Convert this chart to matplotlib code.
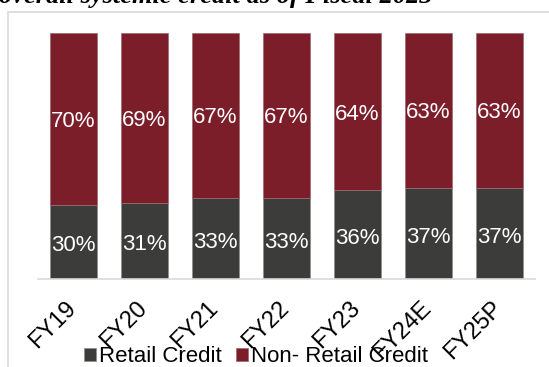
import matplotlib
matplotlib.use("Agg")
import matplotlib.pyplot as plt
from matplotlib.patches import Rectangle
from matplotlib.transforms import ScaledTranslation
import numpy as np

# 零售信贷 vs 非零售信贷占比 (%)
years = ["FY19", "FY20", "FY21", "FY22", "FY23", "FY24E", "FY25P"]
retail = [30, 31, 33, 33, 36, 37, 37]
non_retail = [70, 69, 67, 67, 64, 63, 63]

C_RETAIL = "#3c3c3a"
C_NON = "#7b1e2a"

W, H = 549, 367
fig = plt.figure(figsize=(W / 100, H / 100), dpi=100)
plt.rcParams["font.family"] = ["Liberation Sans", "DejaVu Sans"]

# 图表外框
fig.patches.append(Rectangle((8 / W, -0.1), 1.2, 1.1 - 12 / H, transform=fig.transFigure,
                             fill=False, edgecolor="#d9d9d9", linewidth=1.2))

# 顶部被截断的标题
fig.text(-1 / W, 1 - 2.5 / H, "overall systemic credit as of Fiscal 2023",
         family="Liberation Serif", style="italic", weight="bold",
         fontsize=19, color="black", ha="left", va="baseline")

ax = fig.add_axes([38 / W, 1 - 279 / H, (535 - 38) / W, (279 - 33) / H])
x = np.arange(len(years))
bw = 0.65
ax.bar(x, retail, bw, color=C_RETAIL, edgecolor="#8c8c8c", linewidth=0.5, label="Retail Credit")
ax.bar(x, non_retail, bw, bottom=retail, color=C_NON, edgecolor="#9c6a70", linewidth=0.5,
       label="Non- Retail Credit")

for i in range(len(years)):
    ax.text(x[i], retail[i] / 2 - 1.5, f"{retail[i]}%", color="white", fontsize=16,
            ha="center", va="center")
    ax.text(x[i], retail[i] + non_retail[i] / 2 - 1, f"{non_retail[i]}%", color="white",
            fontsize=16, ha="center", va="center")

ax.set_xlim(-0.5, len(years) - 0.5)
ax.set_ylim(0, 100)
for s in ["top", "right", "left"]:
    ax.spines[s].set_visible(False)
ax.spines["bottom"].set_color("#d9d9d9")
ax.spines["bottom"].set_linewidth(1.2)
ax.set_yticks([])
ax.set_xticks(x)
ax.set_xticklabels(years, rotation=45, ha="right", rotation_mode="anchor", fontsize=17)
ax.tick_params(axis="x", length=0, pad=13)
shift = ScaledTranslation(-6 / 72, 0, fig.dpi_scale_trans)
for lab in ax.get_xticklabels():
    lab.set_transform(lab.get_transform() + shift)

handles, labels = ax.get_legend_handles_labels()
fig.legend(handles, labels, loc="center", bbox_to_anchor=(256 / W, 1 - 357 / H), ncol=2,
           frameon=False, fontsize=16, handlelength=0.55, handleheight=0.55,
           handletextpad=0.15, columnspacing=0.6, borderaxespad=0)

fig.savefig("out.png", dpi=100)
